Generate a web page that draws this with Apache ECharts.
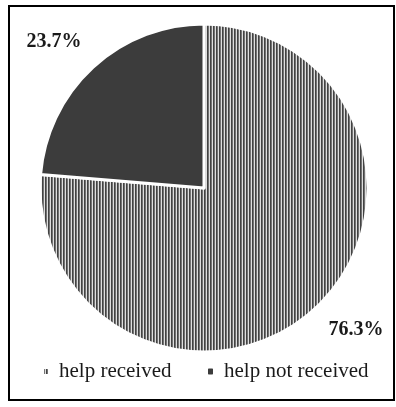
<!DOCTYPE html>
<html>
<head>
<meta charset="utf-8">
<script src="https://cdn.jsdelivr.net/npm/echarts@6/dist/echarts.min.js"></script>
<style>
    html, body { margin: 0; padding: 0; background: #fff; }
    #helpChart { width: 396px; height: 407px; }
</style>
</head>
<body>
<div id="helpChart"></div>
<script>
    // 数据
    var categories = ['help received', 'help not received'];
    var shares = [76.3, 23.7];

    // 竖条纹填充
    var stripeCanvas = document.createElement('canvas');
    stripeCanvas.width = 3;
    stripeCanvas.height = 1;
    var ctx = stripeCanvas.getContext('2d');
    ctx.fillStyle = '#424242'; ctx.fillRect(0, 0, 1, 1);
    ctx.fillStyle = '#737373'; ctx.fillRect(1, 0, 1, 1);
    ctx.fillStyle = '#dedede'; ctx.fillRect(2, 0, 1, 1);
    var stripe = { image: stripeCanvas, repeat: 'repeat' };

    var fills = [stripe, '#3c3c3c'];
    var labelSpots = [[356, 330], [54, 42]];

    var helpChart = echarts.init(document.getElementById('helpChart'));

    var pieData = categories.map(function (name, i) {
        return {
            name: name,
            value: shares[i],
            itemStyle: { color: fills[i] }
        };
    });

    var legendText = {
        fontFamily: 'Liberation Serif',
        fontSize: 21,
        color: '#1a1a1a',
        padding: [0, 0, 0, 5]
    };

    var option = {
        animation: false,
        backgroundColor: '#fff',
        graphic: [
            {
                type: 'rect',
                shape: { x: 9, y: 6, width: 385, height: 394 },
                style: { fill: 'none', stroke: '#000', lineWidth: 2 },
                silent: true
            }
        ],
        legend: [
            {
                data: [categories[0]],
                left: 37,
                top: 356,
                itemWidth: 6,
                itemHeight: 7,
                textStyle: legendText
            },
            {
                data: [categories[1]],
                left: 201,
                top: 356,
                itemWidth: 7,
                itemHeight: 8,
                textStyle: legendText
            }
        ],
        series: [
            {
                type: 'pie',
                center: [204, 188],
                radius: 164,
                startAngle: 90,
                clockwise: true,
                itemStyle: {
                    borderColor: '#fff',
                    borderWidth: 3
                },
                label: {
                    show: true,
                    position: 'inside',
                    formatter: function (p) { return p.value + '%'; },
                    fontFamily: 'Liberation Serif',
                    fontWeight: 'bold',
                    fontSize: 20,
                    color: '#1a1a1a'
                },
                labelLine: { show: false },
                labelLayout: function (params) {
                    var s = labelSpots[params.dataIndex];
                    return { x: s[0], y: s[1], align: 'center', verticalAlign: 'middle' };
                },
                emphasis: { disabled: true },
                data: pieData
            }
        ]
    };

    helpChart.setOption(option);
</script>
</body>
</html>
